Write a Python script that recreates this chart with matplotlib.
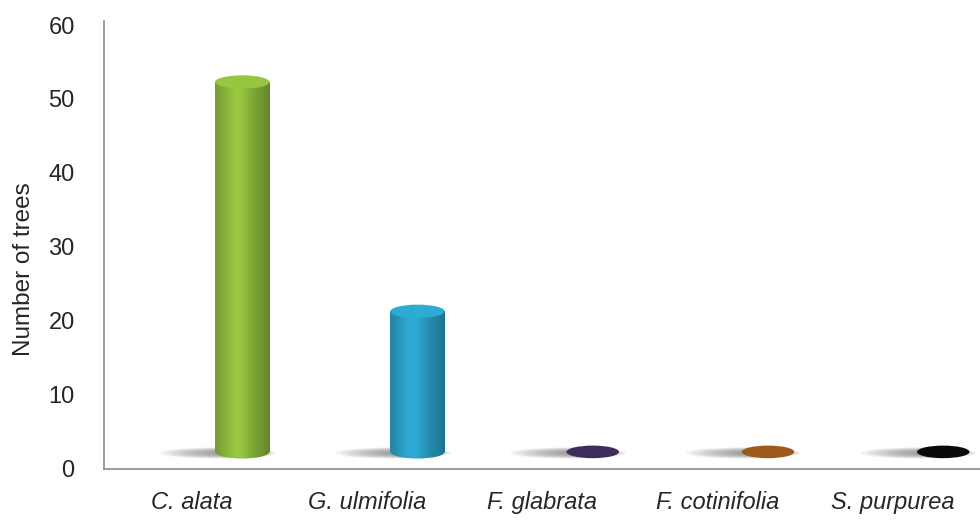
import matplotlib.pyplot as plt
import numpy as np
from matplotlib.patches import Ellipse, Rectangle
from matplotlib.colors import to_rgb

species = ['C. alata', 'G. ulmifolia', 'F. glabrata', 'F. cotinifolia', 'S. purpurea']
counts = [50, 19, 0, 0, 0]
colors = ['#8cb83c', '#2a9ec4', '#3e2c5c', '#9c5a1c', '#0a0a0a']

plt.rcParams['font.family'] = ['Liberation Sans', 'DejaVu Sans']

# 3d look: bars sit a bit behind / above the floor
depth_x = 0.29
base = 2.3
bar_w = 0.31
cap_h = 1.8


def shade(hex_color, n=64):
    c = np.array(to_rgb(hex_color))
    t = np.linspace(0, 1, n)
    # brighter around 40% from left, darker on edges
    k = 0.80 + 0.28 * np.exp(-((t - 0.4) / 0.3) ** 2)
    k[t > 0.85] -= 0.08 * (t[t > 0.85] - 0.85) / 0.15
    img = np.clip(c[None, :] * k[:, None], 0, 1)
    return img[None, :, :]


fig = plt.figure(figsize=(9.8, 5.21), dpi=100)
ax = fig.add_axes([0.106, 0.10, 0.894, 0.852])

for i, (val, col) in enumerate(zip(counts, colors)):
    cx = i + depth_x
    # soft shadow on the floor, mostly to the left of the bar
    for s in np.linspace(1.0, 0.3, 10):
        ax.add_patch(Ellipse((cx - 0.12 * s - 0.02, base - 0.15), 0.66 * s, 1.5 * s,
                             color='#555555', alpha=0.08, lw=0, zorder=1))
    if val > 0:
        top = base + val
        img = shade(col)
        ext = [cx - bar_w / 2, cx + bar_w / 2, base - cap_h, top]
        body = Rectangle((cx - bar_w / 2, base), bar_w, val, transform=ax.transData)
        im = ax.imshow(img, extent=ext, aspect='auto', zorder=2, interpolation='bilinear')
        im.set_clip_path(body)
        bottom = Ellipse((cx, base), bar_w, cap_h, transform=ax.transData)
        im2 = ax.imshow(img, extent=ext, aspect='auto', zorder=2, interpolation='bilinear')
        im2.set_clip_path(bottom)
        c = np.array(to_rgb(col))
        ax.add_patch(Ellipse((cx, top), bar_w, cap_h,
                             color=np.clip(c * 1.08, 0, 1), lw=0, zorder=3))
    else:
        ax.add_patch(Ellipse((cx, base), 0.3, 1.7, color=col, lw=0, zorder=3))

ax.set_xlim(-0.5, 4.5)
ax.set_ylim(0, 60)
ax.set_yticks(range(0, 61, 10))
ax.set_xticks(range(len(species)))
ax.set_xticklabels(species, style='italic', fontsize=17)
ax.tick_params(axis='y', labelsize=17, length=0, pad=21)
ax.tick_params(axis='x', length=0, pad=16)
for lab in ax.get_yticklabels() + ax.get_xticklabels():
    lab.set_color('#262626')
ax.set_ylabel('Number of trees', fontsize=17.5, color='#262626')
ax.yaxis.set_label_coords(-0.079, 0.45)

for side in ['top', 'right']:
    ax.spines[side].set_visible(False)
ax.spines['left'].set_color('#8c8c8c')
ax.spines['bottom'].set_color('#8c8c8c')
ax.spines['left'].set_bounds(0, 60.5)
ax.spines['left'].set_linewidth(1.2)
ax.spines['bottom'].set_linewidth(1.2)

fig.savefig('out.png', dpi=100)
